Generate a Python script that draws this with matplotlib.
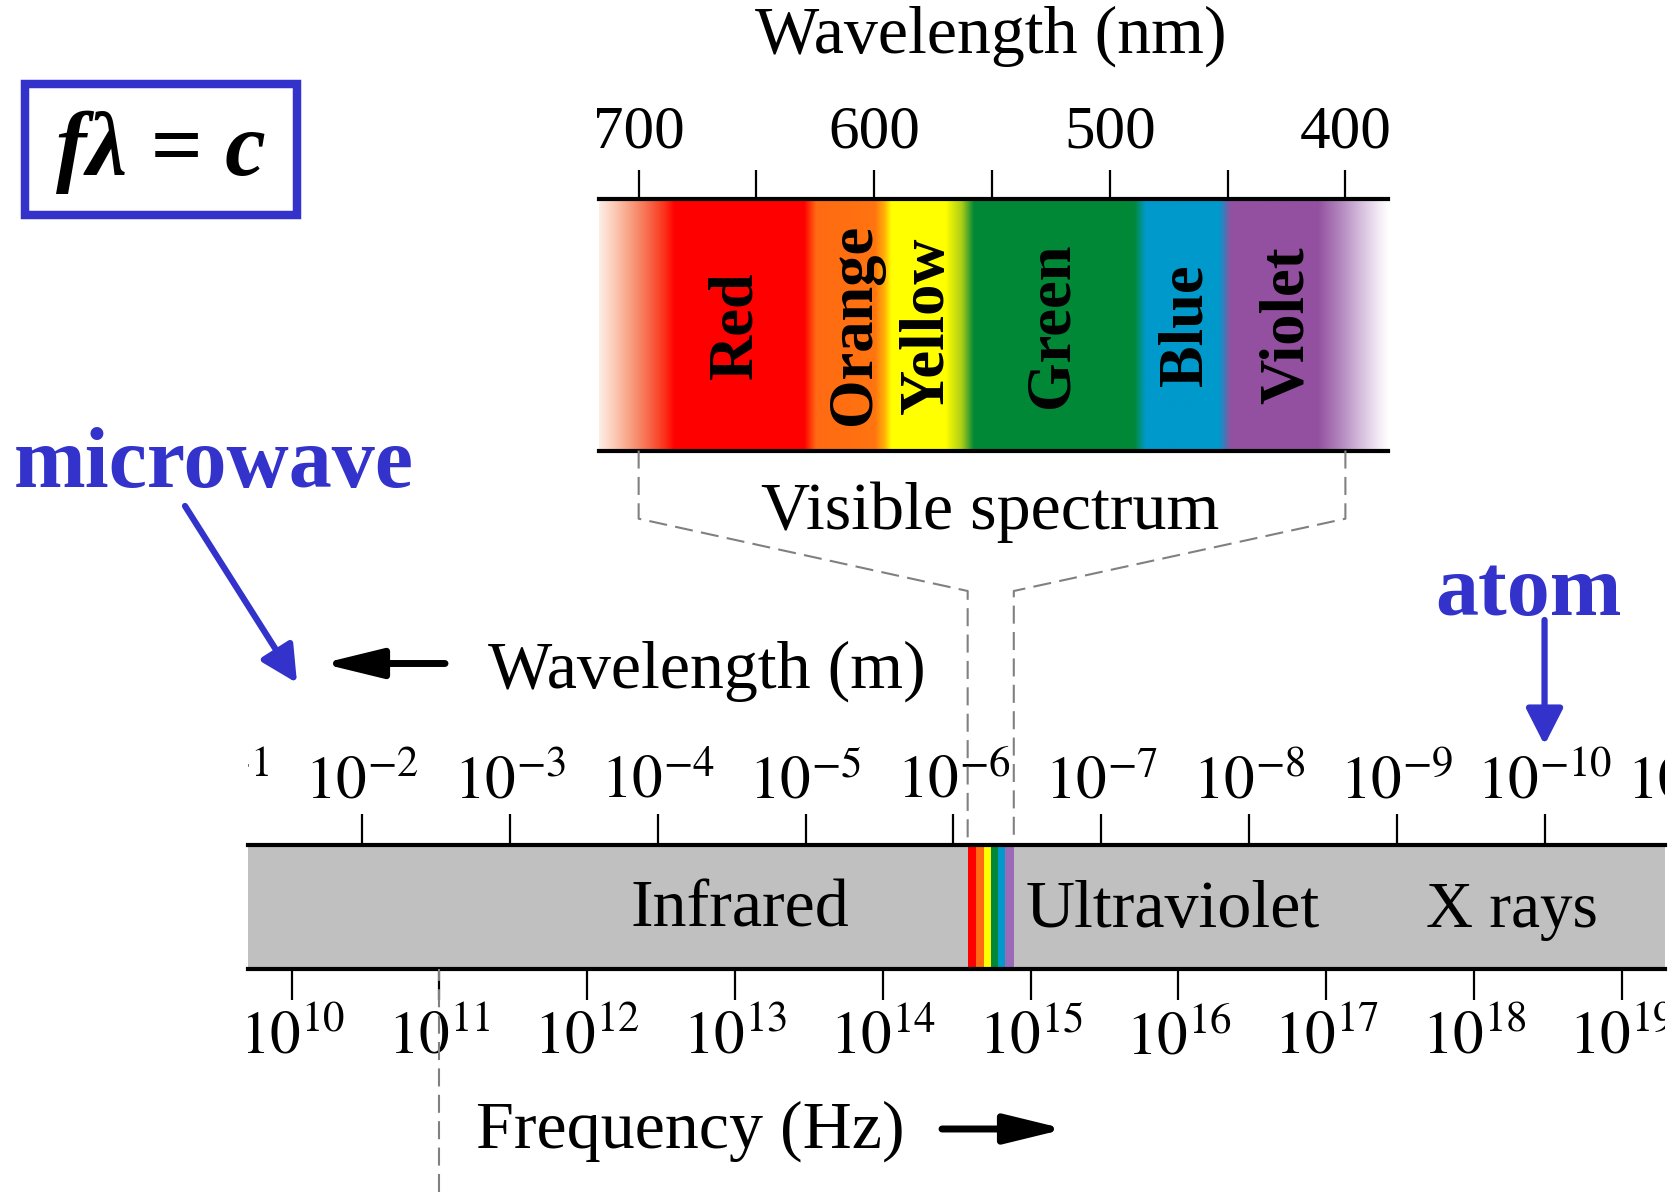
import numpy as np
import matplotlib
matplotlib.use("Agg")
import matplotlib.pyplot as plt
import matplotlib.transforms as mtransforms
from matplotlib.patches import Rectangle, FancyArrowPatch
from matplotlib.lines import Line2D
from matplotlib.ticker import NullLocator
from matplotlib.colors import to_rgb

# ---------------- data ----------------
C_LIGHT = 2.998e8  # speed of light, m/s

# visible-spectrum panel (wavelength in nm)
vis_tick_nm = [700, 650, 600, 550, 500, 450, 400]
vis_tick_labels = ['700', '', '600', '', '500', '', '400']
vis_span_nm = [717, 382]
spectrum_nm = [717, 710, 703, 696, 689, 685, 630, 625, 600, 596, 593, 570,
               563, 558, 490, 485, 454, 449, 412, 402, 393, 386, 382]
spectrum_hex = ['#fdeee6', '#fcc7b2', '#f99a7c', '#f8694a', '#fc2f1a', '#ff0000',
                '#ff0000', '#ff6a13', '#ff7410', '#ffb008', '#ffff00', '#ffff00',
                '#a8cc18', '#008837', '#008837', '#0099cc', '#0099cc', '#9450a0',
                '#9450a0', '#b48ac0', '#d9c2e0', '#f4ecf6', '#ffffff']
color_names = ['Red', 'Orange', 'Yellow', 'Green', 'Blue', 'Violet']
color_label_nm = [652, 602, 571, 518, 461, 418]

# full-spectrum bar
wl_exponents = list(range(-1, -12, -1))     # wavelength tick labels 10^-1 ... 10^-11 m
freq_exponents = list(range(10, 20))        # frequency tick labels 10^10 ... 10^19 Hz
band_names = ['Infrared', 'Ultraviolet', 'X rays']
band_center_m = [2.8e-5, 3.3e-8, 1.65e-10]
band_font_pt = [49, 49, 47]
strip_edges_nm = [800, 700, 620, 555, 500, 445, 390]
strip_colors = ['#ff0000', '#ff6a13', '#ffff00', '#00873a', '#0099cc', '#9a6ab8']
boundary_freq_hz = 1e11
atom_size_m = 1e-10

# ---------------- style / layout ----------------
plt.rcParams['font.family'] = ['Liberation Serif', 'DejaVu Serif']
plt.rcParams['mathtext.fontset'] = 'stix'
plt.rcParams['lines.scale_dashes'] = False

W, H, DPI = 1670, 1192, 100
BLUE = '#3333cc'
GRAY_BAR = '#c0c0c0'
DASH_COLOR = '#808080'
TEXT_PT = 49
TICK_PT = 44
main_view_log10_m = (-1.229, -10.815)

fig = plt.figure(figsize=(W / DPI, H / DPI), dpi=DPI)


def fx(x):
    return x / W


def fy(y):
    return 1 - y / H


def box(x0, y0, x1, y1):
    return [fx(x0), fy(y1), fx(x1) - fx(x0), fy(y0) - fy(y1)]


# ---------------- visible spectrum panel ----------------
ax_vis = fig.add_axes(box(598.6, 199.2, 1387.8, 450.5))
nm_grid = np.linspace(vis_span_nm[0], vis_span_nm[1], 1400)
rgb = np.array([to_rgb(c) for c in spectrum_hex])
xp = np.array(spectrum_nm, dtype=float)[::-1]
img = np.stack([np.interp(nm_grid, xp, rgb[::-1, k]) for k in range(3)], axis=-1)
ax_vis.imshow(img[None, :, :], extent=[vis_span_nm[0], vis_span_nm[1], 0, 1],
              aspect='auto', interpolation='bilinear')
ax_vis.set_xlim(vis_span_nm[0], vis_span_nm[1])
ax_vis.set_ylim(0, 1)
for s in ['left', 'right']:
    ax_vis.spines[s].set_visible(False)
for s in ['top', 'bottom']:
    ax_vis.spines[s].set_linewidth(3)
ax_vis.xaxis.tick_top()
ax_vis.set_xticks(vis_tick_nm, vis_tick_labels)
ax_vis.xaxis.set_minor_locator(NullLocator())
ax_vis.tick_params(axis='x', which='major', length=20.7, width=1.6, pad=7,
                   labelsize=TICK_PT, direction='out', top=True, bottom=False)
ax_vis.set_yticks([])
for name, nm in zip(color_names, color_label_nm):
    ax_vis.text(nm, 0.5, name, rotation=90, rotation_mode='anchor',
                ha='center', va='baseline', fontsize=45, fontweight='bold', color='black')

fig.text(fx(990.5), fy(53), 'Wavelength (nm)', ha='center', va='baseline', fontsize=TEXT_PT)
fig.text(fx(990.5), fy(529), 'Visible spectrum', ha='center', va='baseline', fontsize=TEXT_PT)

# ---------------- main bar ----------------
ax_main = fig.add_axes(box(248.2, 844.6, 1665, 969.2), facecolor=GRAY_BAR)
ax_main.set_xscale('log')
wl_lo, wl_hi = 10.0 ** main_view_log10_m[0], 10.0 ** main_view_log10_m[1]
ax_main.set_xlim(wl_lo, wl_hi)
ax_main.set_ylim(0, 1)
ax_freq = ax_main.twiny()

ax_main.set_yticks([])
for s in ['left', 'right']:
    ax_main.spines[s].set_visible(False)
for s in ['top', 'bottom']:
    ax_main.spines[s].set_linewidth(3)

for i, c in enumerate(strip_colors):
    ax_main.axvspan(strip_edges_nm[i] * 1e-9, strip_edges_nm[i + 1] * 1e-9,
                    color=c, lw=0, zorder=1)

in_range = [e for e in wl_exponents if wl_hi <= 10.0 ** e <= wl_lo]
out_range = [e for e in wl_exponents if e not in in_range]
ax_main.xaxis.tick_top()
ax_main.set_xticks([10.0 ** e for e in in_range], [f'$10^{{{e}}}$' for e in in_range])
ax_main.xaxis.set_minor_locator(NullLocator())
ax_main.tick_params(axis='x', which='major', length=22, width=1.6, pad=2,
                    labelsize=TICK_PT, direction='out', top=True, bottom=False,
                    labeltop=True, labelbottom=False)

ax_freq.set_xscale('log')
ax_freq.set_xlim(C_LIGHT / wl_lo, C_LIGHT / wl_hi)
ax_freq.xaxis.tick_bottom()
ax_freq.set_xticks([10.0 ** e for e in freq_exponents], [f'$10^{{{e}}}$' for e in freq_exponents])
ax_freq.xaxis.set_minor_locator(NullLocator())
ax_freq.tick_params(axis='x', which='major', length=22, width=1.6, pad=8,
                    labelsize=TICK_PT, direction='out', top=False, bottom=True,
                    labeltop=False, labelbottom=True)
for s in ax_freq.spines.values():
    s.set_visible(False)

clip_bb = mtransforms.TransformedBbox(mtransforms.Bbox([[0, -20], [1, 20]]), ax_main.transAxes)
for lab in ax_main.get_xticklabels() + ax_freq.get_xticklabels():
    lab.set_clip_on(True)
    lab.set_clip_box(clip_bb)

blend_main = mtransforms.blended_transform_factory(ax_main.transData, ax_main.transAxes)
edge_tr = mtransforms.offset_copy(blend_main, fig=fig, x=0, y=22 + 2, units='points')
for e in out_range:
    t = ax_main.text(10.0 ** e, 1, f'$10^{{{e}}}$', transform=edge_tr, ha='center',
                     va='bottom', fontsize=TICK_PT, clip_on=True)
    t.set_clip_box(clip_bb)

for name, xm, fs in zip(band_names, band_center_m, band_font_pt):
    ax_main.text(xm, 0.342, name, transform=blend_main, ha='center', va='baseline',
                 fontsize=fs, zorder=3)

# ---------------- dashed connectors ----------------
inv = fig.transFigure.inverted()
vis_bottom = ax_vis.transAxes.transform((0, 0))[1]
main_top = ax_main.transAxes.transform((0, 1))[1]
for nm_vis, nm_strip in [(vis_tick_nm[0], strip_edges_nm[0]), (vis_tick_nm[-1], strip_edges_nm[-1])]:
    xv = ax_vis.transData.transform((nm_vis, 0))[0]
    xm = ax_main.transData.transform((nm_strip * 1e-9, 0.5))[0]
    pts = np.array([[xv, vis_bottom], [xv, (H - 518.7)], [xm, (H - 591)], [xm, main_top + 4]])
    fpts = inv.transform(pts)
    fig.add_artist(Line2D(fpts[:, 0], fpts[:, 1], transform=fig.transFigure, color=DASH_COLOR,
                          lw=1.5, ls=(0, (13, 6)), zorder=5))

blend_freq = mtransforms.blended_transform_factory(ax_freq.transData, fig.transFigure)
fig.add_artist(Line2D([boundary_freq_hz, boundary_freq_hz], [0, fy(969.2)], transform=blend_freq,
                      color=DASH_COLOR, lw=1.5, ls=(0, (13, 6)), zorder=5))

# ---------------- axis titles with arrows ----------------
fig.text(fx(488), fy(688), 'Wavelength (m)', ha='left', va='baseline', fontsize=TEXT_PT)
fig.text(fx(476), fy(1148), 'Frequency (Hz)', ha='left', va='baseline', fontsize=TEXT_PT)

black_arrow = dict(arrowstyle='-|>,head_length=0.9,head_width=0.22', mutation_scale=40,
                   lw=5, color='black', shrinkA=0, shrinkB=0)
fig.add_artist(FancyArrowPatch((fx(445), fy(663.5)), (fx(322), fy(663.5)),
                               transform=fig.transFigure, **black_arrow))
fig.add_artist(FancyArrowPatch((fx(942), fy(1129)), (fx(1065), fy(1129)),
                               transform=fig.transFigure, **black_arrow))

# ---------------- annotations ----------------
blue_arrow = dict(arrowstyle='-|>,head_length=0.55,head_width=0.28', mutation_scale=40,
                  lw=4.5, color=BLUE, shrinkA=0, shrinkB=0)
fig.text(fx(14), fy(487), 'microwave', color=BLUE, fontsize=62, fontweight='bold',
         ha='left', va='baseline')
fig.add_artist(FancyArrowPatch((fx(185), fy(506)), (fx(297), fy(683)),
                               transform=fig.transFigure, **blue_arrow))

fig.text(fx(1528.6), fy(615), 'atom', color=BLUE, fontsize=62, fontweight='bold',
         ha='center', va='baseline')
blend_atom = mtransforms.blended_transform_factory(ax_main.transData, fig.transFigure)
fig.add_artist(FancyArrowPatch((atom_size_m, fy(620)), (atom_size_m, fy(745)),
                               transform=blend_atom, **blue_arrow))

# equation box
fig.add_artist(Rectangle((fx(25.3), fy(214.7)), fx(296.7) - fx(25.3), fy(84.3) - fy(214.7),
                         transform=fig.transFigure, fill=False, edgecolor=BLUE, lw=6.1))
fig.text(fx(161), fy(152), 'f\u03bb = c', fontsize=66, fontweight='bold', fontstyle='italic',
         ha='center', va='center')

fig.savefig('out.png', dpi=DPI)
